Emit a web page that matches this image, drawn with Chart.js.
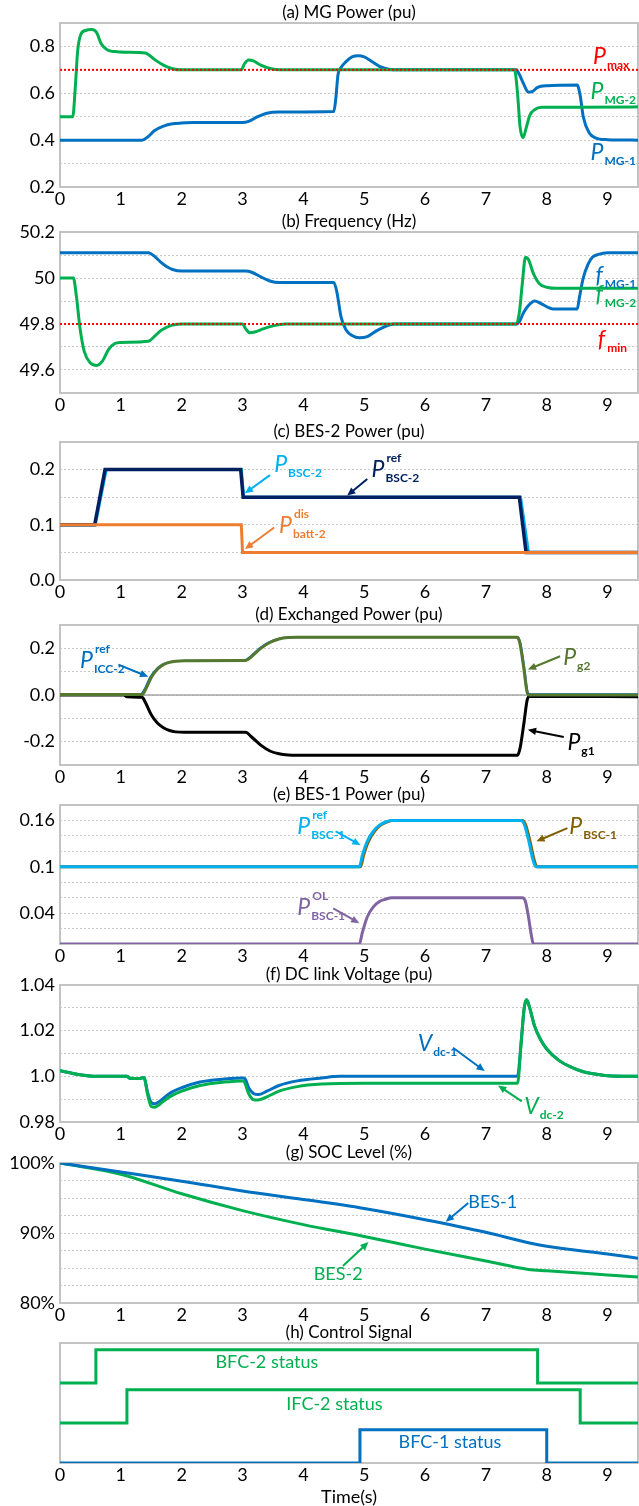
<!DOCTYPE html>
<html>
<head>
<meta charset="utf-8">
<script src="https://cdn.jsdelivr.net/npm/chart.js@4.4.1/dist/chart.umd.min.js"></script>
<style>
  body { margin: 0; background: #fff; width: 639px; height: 1506px; position: relative; overflow: hidden; }
  canvas { position: absolute; left: 0; }
</style>
</head>
<body>
<script>
const FONT = 'Lato, "Open Sans", sans-serif';
const X_TICKS = [0, 1, 2, 3, 4, 5, 6, 7, 8, 9];

const GREEN = '#00b050', BLUE = '#0070c0', RED = '#ff0000', LIGHT = '#00b0f0',
      NAVY = '#002060', ORANGE = '#ed7d31', OLIVE = '#55782f', BROWN = '#806000',
      PURPLE = '#8064a2';

// (a) MG power
const tMg1 = [0, 1.35, 1.45, 1.55, 1.7, 1.85, 2.0, 2.2, 3.0, 3.1, 3.25, 3.4, 3.6, 4.5, 4.53, 4.57, 4.62, 4.7, 4.8, 4.9, 5.0, 5.1, 5.25, 5.4, 5.6, 7.5, 7.55, 7.62, 7.7, 7.76, 7.85, 8.0, 8.5, 8.55, 8.6, 8.7, 8.8, 9.0, 9.5];
const pMg1 = [0.4, 0.4, 0.415, 0.44, 0.46, 0.47, 0.473, 0.475, 0.475, 0.48, 0.5, 0.515, 0.52, 0.522, 0.57, 0.68, 0.71, 0.735, 0.755, 0.76, 0.755, 0.74, 0.715, 0.703, 0.7, 0.7, 0.68, 0.64, 0.605, 0.607, 0.625, 0.632, 0.635, 0.59, 0.5, 0.43, 0.41, 0.402, 0.4];
const tMg2 = [0, 0.21, 0.25, 0.29, 0.34, 0.42, 0.52, 0.6, 0.68, 0.78, 0.9, 1.1, 1.4, 1.55, 1.7, 1.85, 2.0, 2.98, 3.03, 3.1, 3.18, 3.3, 3.45, 3.62, 4.0, 7.47, 7.52, 7.56, 7.61, 7.66, 7.72, 7.8, 7.92, 9.5];
const pMg2 = [0.5, 0.5, 0.62, 0.78, 0.85, 0.868, 0.872, 0.86, 0.81, 0.785, 0.778, 0.775, 0.772, 0.745, 0.72, 0.705, 0.7, 0.7, 0.725, 0.742, 0.738, 0.72, 0.706, 0.7, 0.7, 0.7, 0.6, 0.46, 0.41, 0.45, 0.505, 0.53, 0.54, 0.542];
const pMax = 0.7;
const gridA = [0.2, 0.3, 0.4, 0.5, 0.6, 0.7, 0.8, 0.9];
const labValA = [0.2, 0.4, 0.6, 0.8];
const labTxtA = ['0.2', '0.4', '0.6', '0.8'];

// (b) frequency
const tF1 = [0, 1.45, 1.55, 1.65, 1.75, 1.85, 2.0, 3.05, 3.15, 3.3, 3.45, 3.6, 4.5, 4.55, 4.62, 4.7, 4.8, 4.92, 5.05, 5.2, 5.35, 5.5, 7.5, 7.55, 7.62, 7.7, 7.8, 7.9, 8.0, 8.1, 8.5, 8.54, 8.6, 8.68, 8.75, 8.85, 9.0, 9.5];
const f1 = [50.11, 50.11, 50.095, 50.07, 50.05, 50.037, 50.03, 50.03, 50.025, 50.005, 49.987, 49.98, 49.98, 49.94, 49.83, 49.775, 49.75, 49.74, 49.745, 49.77, 49.79, 49.8, 49.8, 49.81, 49.85, 49.88, 49.9, 49.89, 49.875, 49.865, 49.865, 49.92, 50.0, 50.06, 50.09, 50.103, 50.11, 50.11];
const tF2 = [0, 0.22, 0.27, 0.33, 0.4, 0.5, 0.6, 0.7, 0.8, 0.9, 1.0, 1.45, 1.55, 1.65, 1.75, 1.85, 2.0, 3.0, 3.05, 3.12, 3.2, 3.35, 3.5, 3.7, 7.5, 7.55, 7.6, 7.65, 7.7, 7.78, 7.88, 8.0, 8.2, 9.5];
const f2 = [50.0, 50.0, 49.92, 49.78, 49.68, 49.63, 49.62, 49.64, 49.69, 49.715, 49.72, 49.725, 49.745, 49.77, 49.785, 49.795, 49.8, 49.8, 49.78, 49.762, 49.765, 49.78, 49.792, 49.8, 49.8, 49.85, 49.98, 50.09, 50.08, 50.02, 49.975, 49.96, 49.955, 49.955];
const fMin = 49.8;
const gridB = [49.5, 49.6, 49.7, 49.8, 49.9, 50.0, 50.1, 50.2];
const labValB = [49.6, 49.8, 50.0, 50.2];
const labTxtB = ['49.6', '49.8', '50', '50.2'];

// (c) BES-2 power
const tRef2 = [0, 0.57, 0.74, 2.97, 3.01, 7.55, 7.66, 9.5];
const pRef2 = [0.1, 0.1, 0.2, 0.2, 0.15, 0.15, 0.05, 0.05];
const tBsc2 = [0, 0.58, 0.76, 2.98, 3.02, 7.57, 7.7, 9.5];
const pBsc2 = [0.1, 0.1, 0.2, 0.2, 0.15, 0.15, 0.05, 0.05];
const tBatt2 = [0, 2.98, 3.0, 9.5];
const pBatt2 = [0.1, 0.1, 0.05, 0.05];
const gridC = [0, 0.05, 0.1, 0.15, 0.2, 0.25];
const labValC = [0, 0.1, 0.2];
const labTxtC = ['0.0', '0.1', '0.2'];

// (d) exchanged power
const tG2 = [0, 1.35, 1.4, 1.5, 1.6, 1.7, 1.8, 1.9, 2.05, 3.05, 3.15, 3.3, 3.45, 3.6, 3.75, 3.9, 7.52, 7.56, 7.62, 7.68, 7.72, 9.5];
const pG2 = [0.002, 0.002, 0.02, 0.075, 0.11, 0.13, 0.14, 0.145, 0.147, 0.148, 0.165, 0.2, 0.225, 0.24, 0.246, 0.247, 0.247, 0.22, 0.12, 0.01, 0.0, 0.0];
const tIcc2 = [0, 1.33, 1.38, 1.48, 1.58, 1.68, 1.78, 1.88, 2.05, 3.03, 3.13, 3.28, 3.43, 3.58, 3.73, 3.9, 7.52, 7.57, 7.63, 7.69, 7.73, 9.5];
const pIcc2 = [0.004, 0.004, 0.02, 0.075, 0.11, 0.13, 0.14, 0.145, 0.147, 0.148, 0.165, 0.2, 0.225, 0.24, 0.246, 0.247, 0.247, 0.22, 0.12, 0.01, 0.003, 0.003];
const tG1 = [0, 1.05, 1.1, 1.35, 1.4, 1.5, 1.6, 1.7, 1.8, 1.9, 2.05, 3.05, 3.15, 3.3, 3.45, 3.6, 3.75, 3.9, 7.52, 7.56, 7.62, 7.68, 7.72, 9.5];
const pG1 = [0.0, 0.0, -0.008, -0.01, -0.03, -0.085, -0.12, -0.14, -0.152, -0.158, -0.16, -0.16, -0.18, -0.215, -0.24, -0.252, -0.257, -0.258, -0.258, -0.23, -0.13, -0.02, -0.006, -0.007];
const gridD = [-0.3, -0.2, -0.1, 0, 0.1, 0.2, 0.3];
const labValD = [-0.2, 0, 0.2];
const labTxtD = ['-0.2', '0.0', '0.2'];

// (e) BES-1 power
const tRef1 = [0, 4.92, 4.97, 5.05, 5.15, 5.25, 5.35, 5.45, 5.6, 7.58, 7.63, 7.7, 7.77, 7.82, 9.5];
const pRef1 = [0.1, 0.1, 0.115, 0.133, 0.146, 0.154, 0.158, 0.16, 0.16, 0.16, 0.155, 0.135, 0.11, 0.1, 0.1];
const tBsc1 = [0, 4.94, 4.99, 5.07, 5.17, 5.27, 5.37, 5.47, 5.62, 7.6, 7.65, 7.72, 7.79, 7.84, 9.5];
const pBsc1 = [0.1, 0.1, 0.115, 0.133, 0.146, 0.154, 0.158, 0.16, 0.16, 0.16, 0.155, 0.135, 0.11, 0.1, 0.1];
const tOl1 = [0, 4.92, 4.97, 5.05, 5.15, 5.25, 5.35, 5.45, 5.6, 7.6, 7.65, 7.7, 7.75, 7.78, 9.5];
const pOl1 = [0, 0, 0.015, 0.035, 0.048, 0.055, 0.058, 0.06, 0.06, 0.06, 0.055, 0.035, 0.01, 0, 0];
const gridE = [0, 0.02, 0.04, 0.06, 0.08, 0.1, 0.12, 0.14, 0.16, 0.18];
const labValE = [0.04, 0.1, 0.16];
const labTxtE = ['0.04', '0.1', '0.16'];

// (f) DC link voltage
const tV1 = [0, 0.3, 0.6, 1.1, 1.15, 1.3, 1.38, 1.44, 1.5, 1.56, 1.65, 1.8, 2.0, 2.3, 2.7, 3.0, 3.04, 3.1, 3.18, 3.26, 3.4, 3.6, 3.9, 4.3, 4.6, 7.52, 7.58, 7.63, 7.67, 7.72, 7.8, 7.9, 8.0, 8.2, 8.4, 8.6, 8.8, 9.0, 9.5];
const v1 = [1.0025, 1.0008, 1.0, 1.0, 0.9992, 0.999, 0.9995, 0.993, 0.9885, 0.988, 0.9893, 0.9925, 0.995, 0.9975, 0.9988, 0.9993, 0.999, 0.995, 0.9925, 0.992, 0.9935, 0.996, 0.998, 0.9993, 1.0, 1.0, 1.015, 1.03, 1.0335, 1.03, 1.022, 1.016, 1.012, 1.007, 1.004, 1.002, 1.001, 1.0003, 1.0];
const tV2 = [0, 0.3, 0.6, 1.1, 1.15, 1.3, 1.38, 1.44, 1.5, 1.56, 1.65, 1.8, 2.0, 2.3, 2.7, 3.0, 3.03, 3.1, 3.18, 3.25, 3.4, 3.6, 3.9, 4.3, 5.0, 7.52, 7.58, 7.63, 7.67, 7.72, 7.8, 7.9, 8.0, 8.2, 8.4, 8.6, 8.8, 9.0, 9.5];
const v2 = [1.0025, 1.0008, 1.0, 1.0, 0.9992, 0.999, 0.9995, 0.992, 0.9868, 0.9865, 0.988, 0.991, 0.9935, 0.996, 0.9975, 0.998, 0.9975, 0.9925, 0.9898, 0.9896, 0.991, 0.9935, 0.9955, 0.9966, 0.997, 0.997, 1.015, 1.03, 1.0335, 1.03, 1.022, 1.016, 1.012, 1.007, 1.004, 1.002, 1.001, 1.0003, 1.0];
const gridF = [0.98, 0.99, 1.0, 1.01, 1.02, 1.03, 1.04];
const labValF = [0.98, 1.0, 1.02, 1.04];
const labTxtF = ['0.98', '1.0', '1.02', '1.04'];

// (g) SOC level
const tSoc = [0, 1, 2, 3, 4, 5, 6, 7, 7.7, 8, 9, 9.5];
const soc1 = [100, 98.7, 97.4, 96.0, 94.8, 93.5, 91.9, 90.1, 88.6, 88.1, 87.0, 86.4];
const soc2 = [100, 98.4, 95.6, 93.2, 91.2, 89.5, 87.7, 86.0, 84.8, 84.6, 84.0, 83.7];
const gridG = [80, 82.5, 85, 87.5, 90, 92.5, 95, 97.5, 100];
const labValG = [80, 90, 100];
const labTxtG = ['80%', '90%', '100%'];

// (h) control signals, each trace on its own level band
const tBfc2 = [0, 0.59, 0.59, 7.85, 7.85, 9.5];
const sBfc2 = [2.4, 2.4, 3.4, 3.4, 2.4, 2.4];
const tIfc2 = [0, 1.1, 1.1, 8.55, 8.55, 9.5];
const sIfc2 = [1.2, 1.2, 2.2, 2.2, 1.2, 1.2];
const tBfc1 = [0, 4.93, 4.93, 8.0, 8.0, 9.5];
const sBfc1 = [0, 0, 1, 1, 0, 0];

function pts(ts, vs) {
  return ts.map((t, i) => ({ x: t, y: vs[i] }));
}

function line(ts, vs, color, width, order, extra) {
  return Object.assign({
    data: pts(ts, vs),
    borderColor: color,
    borderWidth: width,
    pointRadius: 0,
    fill: false,
    order: order,
    cubicInterpolationMode: 'monotone'
  }, extra || {});
}

function flat(v, color, order) {
  return line([0, 9.5], [v, v], color, 2, order, { borderDash: [2, 2], cubicInterpolationMode: 'default' });
}

function step(ts, vs, color) {
  return line(ts, vs, color, 3, 0, { cubicInterpolationMode: 'default', tension: 0 });
}

function arrow(ctx, x1, y1, x2, y2, color) {
  const a = Math.atan2(y2 - y1, x2 - x1);
  const hl = 9;
  ctx.strokeStyle = color;
  ctx.fillStyle = color;
  ctx.lineWidth = 2;
  ctx.beginPath();
  ctx.moveTo(x1, y1);
  ctx.lineTo(x2 - 6 * Math.cos(a), y2 - 6 * Math.sin(a));
  ctx.stroke();
  ctx.beginPath();
  ctx.moveTo(x2, y2);
  ctx.lineTo(x2 - hl * Math.cos(a - 0.42), y2 - hl * Math.sin(a - 0.42));
  ctx.lineTo(x2 - hl * Math.cos(a + 0.42), y2 - hl * Math.sin(a + 0.42));
  ctx.closePath();
  ctx.fill();
}

// italic symbol with a bold subscript and optional superscript
function tag(ctx, x, y, t) {
  ctx.fillStyle = t.color;
  ctx.textAlign = 'left';
  ctx.textBaseline = 'alphabetic';
  ctx.font = 'italic 23px ' + FONT;
  ctx.fillText(t.main, x, y);
  const w = ctx.measureText(t.main).width + (t.main === 'f' ? 2 : 1);
  ctx.font = 'bold 12px ' + FONT;
  if (t.sub) ctx.fillText(t.sub, x + w, y + 5);
  if (t.sup) ctx.fillText(t.sup, x + w + 1, y - 15);
}

function decor(p) {
  return {
    id: 'decor',
    beforeDatasetsDraw(chart) {
      const { ctx, chartArea: a, scales } = chart;
      ctx.save();
      if (p.zeroLine) {
        const y0 = scales.y.getPixelForValue(0);
        ctx.strokeStyle = '#a6a6a6';
        ctx.lineWidth = 1.5;
        ctx.beginPath();
        ctx.moveTo(a.left, y0);
        ctx.lineTo(a.right, y0);
        ctx.stroke();
      }
      ctx.strokeStyle = '#c3c3c3';
      ctx.lineWidth = 2;
      ctx.strokeRect(a.left, a.top, a.right - a.left, a.bottom - a.top);
      ctx.restore();
    },
    afterDatasetsDraw(chart) {
      const { ctx, scales } = chart;
      const X = v => scales.x.getPixelForValue(v);
      const Y = v => scales.y.getPixelForValue(v);
      ctx.save();
      (p.arrows || []).forEach(r => arrow(ctx, X(r.from[0]), Y(r.from[1]), X(r.to[0]), Y(r.to[1]), r.color));
      (p.tags || []).forEach(t => tag(ctx, X(t.x), Y(t.y), t));
      (p.texts || []).forEach(t => {
        ctx.fillStyle = t.color;
        ctx.font = '18px ' + FONT;
        ctx.textAlign = t.align || 'left';
        ctx.textBaseline = 'alphabetic';
        ctx.fillText(t.text, X(t.x), Y(t.y));
      });
      ctx.restore();
    },
    afterDraw(chart) {
      const { ctx, chartArea: a } = chart;
      ctx.save();
      ctx.fillStyle = '#000';
      ctx.font = '17px ' + FONT;
      ctx.textAlign = 'center';
      ctx.textBaseline = 'middle';
      ctx.fillText(p.title, (a.left + a.right) / 2, a.top - 10);
      if (p.xTitle) {
        ctx.font = '18px ' + FONT;
        ctx.fillText(p.xTitle, (a.left + a.right) / 2, a.bottom + 34);
      }
      ctx.restore();
    }
  };
}

function panel(p) {
  const canvasTop = Math.max(0, p.top - 24);
  const padTop = p.top - canvasTop;
  const xArea = p.xTitle ? 44 : 24;
  const height = p.bottom - canvasTop + xArea;
  const cv = document.createElement('canvas');
  cv.width = 639;
  cv.height = height;
  cv.style.top = canvasTop + 'px';
  cv.style.width = '639px';
  cv.style.height = height + 'px';
  document.body.appendChild(cv);

  const grid = p.grid || [];
  const labVal = p.labVal || [];
  const labTxt = p.labTxt || [];

  return new Chart(cv, {
    type: 'line',
    data: { datasets: p.datasets },
    options: {
      responsive: false,
      animation: false,
      devicePixelRatio: 1,
      layout: { padding: { top: padTop, right: 1, left: 0, bottom: 0 } },
      plugins: { legend: { display: false }, tooltip: { enabled: false } },
      scales: {
        x: {
          type: 'linear',
          min: 0,
          max: 9.5,
          afterBuildTicks: s => { s.ticks = X_TICKS.map(v => ({ value: v })); },
          afterFit: s => { s.height = xArea; },
          grid: { display: false, drawTicks: false },
          border: { display: false },
          ticks: { color: '#000', font: { family: FONT, size: 18 }, padding: 1, maxRotation: 0, autoSkip: false }
        },
        y: {
          type: 'linear',
          min: p.yMin,
          max: p.yMax,
          afterBuildTicks: s => { s.ticks = grid.map(v => ({ value: v })); },
          afterFit: s => { s.width = 60; },
          grid: { display: grid.length > 0, color: '#c8c8c8', lineWidth: 1, drawTicks: false },
          border: { display: false, dash: [2, 2] },
          ticks: {
            display: labVal.length > 0,
            autoSkip: false,
            padding: 5,
            color: '#000',
            font: { family: FONT, size: 18 },
            callback: v => {
              const i = labVal.findIndex(u => Math.abs(u - v) < 1e-6);
              return i >= 0 ? labTxt[i] : '';
            }
          }
        }
      }
    },
    plugins: [decor(p)]
  });
}

panel({
  title: '(a) MG Power (pu)', top: 23, bottom: 187, yMin: 0.2, yMax: 0.9,
  grid: gridA, labVal: labValA, labTxt: labTxtA,
  datasets: [flat(pMax, RED, 0), line(tMg2, pMg2, GREEN, 3, 1), line(tMg1, pMg1, BLUE, 3, 2)],
  tags: [
    { main: 'P', sub: 'max', x: 8.76, y: 0.723, color: RED },
    { main: 'P', sub: 'MG-2', x: 8.72, y: 0.574, color: GREEN },
    { main: 'P', sub: 'MG-1', x: 8.72, y: 0.317, color: BLUE }
  ]
});

panel({
  title: '(b) Frequency (Hz)', top: 232, bottom: 393, yMin: 49.5, yMax: 50.2,
  grid: gridB, labVal: labValB, labTxt: labTxtB,
  datasets: [flat(fMin, RED, 0), line(tF2, f2, GREEN, 3, 1), line(tF1, f1, BLUE, 3, 2)],
  tags: [
    { main: 'f', sub: 'MG-1', x: 8.8, y: 49.98, color: BLUE },
    { main: 'f', sub: 'MG-2', x: 8.8, y: 49.895, color: GREEN },
    { main: 'f', sub: 'min', x: 8.84, y: 49.70, color: RED }
  ]
});

panel({
  title: '(c) BES-2 Power (pu)', top: 442, bottom: 580, yMin: 0, yMax: 0.25,
  grid: gridC, labVal: labValC, labTxt: labTxtC,
  datasets: [
    line(tBatt2, pBatt2, ORANGE, 3, 0, { cubicInterpolationMode: 'default' }),
    line(tRef2, pRef2, NAVY, 3.5, 1, { cubicInterpolationMode: 'default' }),
    line(tBsc2, pBsc2, LIGHT, 3, 2, { cubicInterpolationMode: 'default' })
  ],
  arrows: [
    { from: [3.45, 0.19], to: [3.04, 0.157], color: LIGHT },
    { from: [5.05, 0.183], to: [4.72, 0.153], color: NAVY },
    { from: [3.52, 0.095], to: [3.04, 0.056], color: ORANGE }
  ],
  tags: [
    { main: 'P', sub: 'BSC-2', x: 3.52, y: 0.195, color: LIGHT },
    { main: 'P', sub: 'BSC-2', sup: 'ref', x: 5.12, y: 0.186, color: NAVY },
    { main: 'P', sub: 'batt-2', sup: 'dis', x: 3.6, y: 0.085, color: ORANGE }
  ]
});

panel({
  title: '(d) Exchanged Power (pu)', top: 625, bottom: 765, yMin: -0.3, yMax: 0.3,
  grid: gridD, labVal: labValD, labTxt: labTxtD, zeroLine: true,
  datasets: [
    line(tG2, pG2, OLIVE, 3, 0),
    line(tIcc2, pIcc2, BLUE, 2, 1),
    line(tG1, pG1, '#000000', 3, 2)
  ],
  arrows: [
    { from: [0.96, 0.13], to: [1.45, 0.078], color: BLUE },
    { from: [8.22, 0.166], to: [7.69, 0.109], color: OLIVE },
    { from: [8.28, -0.18], to: [7.69, -0.149], color: '#000000' }
  ],
  tags: [
    { main: 'P', sub: 'ICC-2', sup: 'ref', x: 0.33, y: 0.117, color: BLUE },
    { main: 'P', sub: 'g2', x: 8.27, y: 0.128, color: OLIVE },
    { main: 'P', sub: 'g1', x: 8.34, y: -0.234, color: '#000000' }
  ]
});

panel({
  title: '(e) BES-1 Power (pu)', top: 805, bottom: 944, yMin: 0, yMax: 0.18,
  grid: gridE, labVal: labValE, labTxt: labTxtE,
  datasets: [
    line(tRef1, pRef1, LIGHT, 3, 0),
    line(tBsc1, pBsc1, BROWN, 3, 1),
    line(tOl1, pOl1, PURPLE, 3, 2)
  ],
  arrows: [
    { from: [4.53, 0.146], to: [4.94, 0.128], color: LIGHT },
    { from: [8.34, 0.15], to: [7.83, 0.133], color: BROWN },
    { from: [4.49, 0.046], to: [4.92, 0.027], color: PURPLE }
  ],
  tags: [
    { main: 'P', sub: 'BSC-1', sup: 'ref', x: 3.9, y: 0.142, color: LIGHT },
    { main: 'P', sub: 'BSC-1', x: 8.37, y: 0.142, color: BROWN },
    { main: 'P', sub: 'BSC-1', sup: 'OL', x: 3.9, y: 0.037, color: PURPLE }
  ]
});

panel({
  title: '(f) DC link Voltage (pu)', top: 985, bottom: 1122, yMin: 0.98, yMax: 1.04,
  grid: gridF, labVal: labValF, labTxt: labTxtF,
  datasets: [line(tV2, v2, GREEN, 3, 0), line(tV1, v1, BLUE, 3, 1)],
  arrows: [
    { from: [6.46, 1.0125], to: [6.98, 1.0023], color: BLUE },
    { from: [7.59, 0.989], to: [7.2, 0.996], color: GREEN }
  ],
  tags: [
    { main: 'V', sub: 'dc-1', x: 5.88, y: 1.011, color: BLUE },
    { main: 'V', sub: 'dc-2', x: 7.63, y: 0.9835, color: GREEN }
  ]
});

panel({
  title: '(g) SOC Level (%)', top: 1163, bottom: 1303, yMin: 80, yMax: 100,
  grid: gridG, labVal: labValG, labTxt: labTxtG,
  datasets: [line(tSoc, soc1, BLUE, 3, 0), line(tSoc, soc2, GREEN, 3, 1)],
  arrows: [
    { from: [6.71, 94.3], to: [6.34, 91.6], color: BLUE },
    { from: [4.65, 85.3], to: [5.07, 88.7], color: GREEN }
  ],
  texts: [
    { text: 'BES-1', x: 6.71, y: 93.6, color: BLUE },
    { text: 'BES-2', x: 4.17, y: 83.3, color: GREEN }
  ]
});

panel({
  title: '(h) Control Signal', top: 1343, bottom: 1463, yMin: 0, yMax: 3.6,
  xTitle: 'Time(s)',
  datasets: [step(tBfc2, sBfc2, GREEN), step(tIfc2, sIfc2, GREEN), step(tBfc1, sBfc1, BLUE)],
  texts: [
    { text: 'BFC-2 status', x: 3.4, y: 2.85, color: GREEN, align: 'center' },
    { text: 'IFC-2 status', x: 4.51, y: 1.59, color: GREEN, align: 'center' },
    { text: 'BFC-1 status', x: 6.41, y: 0.45, color: BLUE, align: 'center' }
  ]
});
</script>
</body>
</html>
